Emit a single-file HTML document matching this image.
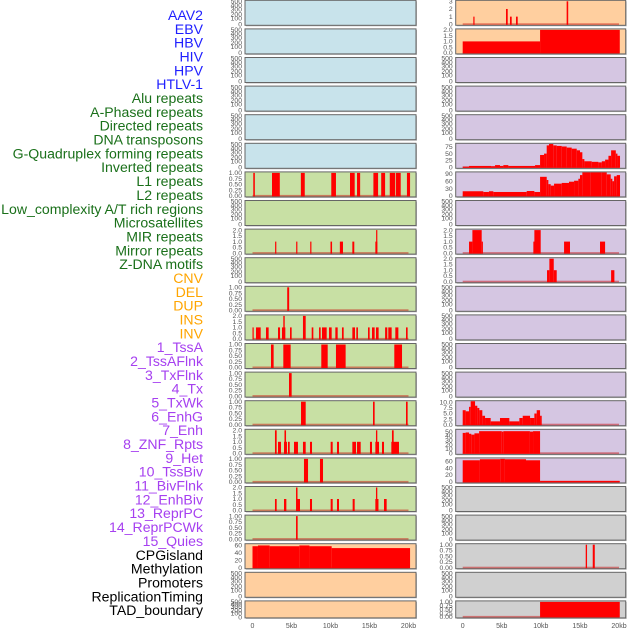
<!DOCTYPE html>
<html><head><meta charset="utf-8"><style>
html,body{margin:0;padding:0;background:#fff;width:630px;height:630px;overflow:hidden}
svg{display:block;font-family:"Liberation Sans",sans-serif}
</style></head><body>
<svg id="chart" width="630" height="630" viewBox="0 0 630 630"></svg>
<script>
const labels = ["AAV2","EBV","HBV","HIV","HPV","HTLV-1","Alu repeats","A-Phased repeats","Directed repeats","DNA transposons","G-Quadruplex forming repeats","Inverted repeats","L1 repeats","L2 repeats","Low_complexity A/T rich regions","Microsatellites","MIR repeats","Mirror repeats","Z-DNA motifs","CNV","DEL","DUP","INS","INV","1_TssA","2_TssAFlnk","3_TxFlnk","4_Tx","5_TxWk","6_EnhG","7_Enh","8_ZNF_Rpts","9_Het","10_TssBiv","11_BivFlnk","12_EnhBiv","13_ReprPC","14_ReprPCWk","15_Quies","CPGisland","Methylation","Promoters","ReplicationTiming","TAD_boundary"];
const labelGroups = [6,13,5,15,5];
const groupColors = ["#1f1fff","#1a701a","#ffa500","#a640f0","#000000"];
const xTicks = [0,5,10,15,20];
const xTickLabels = ["0","5kb","10kb","15kb","20kb"];
// segments: [startKb, endKb, value]
const L06 = [[0.1,0.3,1],[2.5,3.5,1],[6.2,6.7,1],[10.1,10.7,1],[12.5,13.1,1],[13.4,13.8,1],[15.5,16.1,1],[16.5,17.0,1],[17.6,18.3,1],[18.4,19.0,1],[19.8,20.2,1]];
const L08 = [[2.9,3.05,1],[5.6,5.75,1],[7.4,7.55,1],[10.0,10.2,1],[11.2,11.6,1],[12.8,13.05,1],[15.75,16.0,1],[15.85,16.0,2]];
const L10 = [[4.45,4.7,1]];
const L11 = [[0,0.15,1],[0.45,1.05,1],[1.73,2.07,1],[3.27,3.53,1],[3.78,4.21,1],[3.95,4.13,2],[4.81,5.02,1],[6.47,6.82,2],[7.59,7.8,1],[8.53,8.74,1],[8.91,9.51,1],[9.81,10.15,1],[10.62,10.92,1],[11.47,11.69,1],[12.8,13.14,1],[13.31,13.52,1],[14.81,15.02,1],[15.32,15.66,1],[15.83,16.17,1],[17.0,17.28,1],[17.41,17.84,1],[18.31,18.7,1],[19.68,19.89,1]];
const L12 = [[2.37,2.71,1],[3.95,4.89,1],[8.82,9.64,1],[10.7,11.94,1],[18.18,19.17,1]];
const L13 = [[4.68,5.02,1]];
const L14 = [[6.22,6.82,1],[15.45,15.66,1],[19.68,19.89,1]];
const L15 = [[2.88,3.1,2],[3.27,3.65,1],[4.04,4.42,1],[4.1,4.3,2],[4.55,4.77,1],[5.32,5.83,1],[6.47,6.82,1],[7.37,7.63,1],[10.02,10.28,1],[10.83,11.09,1],[12.8,13.27,1],[13.4,13.87,1],[15.06,15.32,1],[15.75,16.22,1],[15.83,16.0,2],[16.6,16.86,1],[17.8,18.78,1],[17.88,18.1,2]];
const L16 = [[6.6,7.12,1],[8.65,9.04,1]];
const L17 = [[2.88,3.1,1],[4.04,4.34,1],[5.58,5.77,2],[5.77,6.09,1],[7.37,7.63,1],[10.02,10.28,1],[10.83,11.09,1],[12.84,13.1,1],[15.75,16.15,1],[15.83,16.0,2],[16.86,17.2,1]];
const L18 = [[5.58,5.79,1]];
const L19 = [[0,0.7,57],[0.7,2.2,59],[2.2,6,57],[6,7.3,59],[7.3,10.15,57],[10.15,20.2,52]];
const R00 = [[1.36,1.49,1],[5.54,5.76,2],[6.05,6.27,1],[6.82,7.04,1],[13.3,13.5,3]];
const R01 = [[0,9.9,1],[9.9,20.1,2]];
const R05 = [[0,0.81,2],[0.81,3.62,5],[3.62,4.14,4],[4.14,4.77,8],[4.77,5.2,5],[5.2,5.84,8],[5.84,9.26,5],[9.26,9.9,8],[9.9,10.41,45],[10.41,10.75,50],[10.75,11.04,80],[11.04,11.59,85],[11.59,12.03,80],[12.03,12.67,78],[12.67,13.31,76],[13.31,13.95,72],[13.95,14.59,68],[14.59,15.01,62],[15.01,15.31,55],[15.31,15.57,30],[15.57,16.51,22],[16.51,17.36,20],[17.36,17.8,18],[17.8,18.22,22],[18.22,18.65,28],[18.65,18.99,42],[18.99,19.59,62],[19.59,19.8,50],[19.8,20.13,42]];
const R06 = [[0,2.64,19],[2.64,3.36,16],[3.36,3.92,19],[3.92,8.19,16],[8.19,9.17,20],[9.17,9.9,16],[9.9,10.75,78],[10.75,10.96,65],[10.96,11.26,48],[11.26,11.69,42],[11.69,12.67,50],[12.67,13.6,53],[13.6,14.25,58],[14.25,14.8,62],[14.8,15.01,70],[15.01,15.31,85],[15.31,16.38,97],[16.38,17.8,99],[17.8,18.43,96],[18.43,18.94,88],[18.94,19.15,70],[19.15,19.37,60],[19.37,19.71,80],[19.71,20.13,85]];
const R08 = [[0.81,1.24,1],[1.24,2.43,2],[2.43,2.56,1],[9.04,9.17,1],[9.17,9.98,2],[12.97,13.73,1],[17.57,18.22,1]];
const R09 = [[10.79,11.09,1],[11.09,11.65,2],[11.65,12.03,1],[18.99,19.41,1]];
const R14 = [[0,0.38,6.5],[0.38,0.81,6],[0.81,1.02,8],[1.02,1.58,10.5],[1.58,1.87,8.5],[1.87,2.13,7.5],[2.13,2.51,6.5],[2.51,2.86,4],[2.86,3.58,3],[3.58,4.77,1.5],[4.77,5.97,3],[5.97,7.25,1.5],[7.25,7.68,3],[7.68,8.62,4],[8.62,9.17,3],[9.17,9.47,5],[9.47,9.9,6.5],[9.9,10.11,4]];
const R15 = [[0,0.38,47],[0.38,0.81,48],[0.81,1.1,45],[1.1,1.5,43],[1.5,2.1,46],[2.1,5.0,51],[5.0,5.2,50],[5.2,8.6,51],[8.6,9.0,50],[9.0,9.9,51]];
const R16 = [[0,2.2,63],[2.2,4.8,66],[4.8,5.4,67],[5.4,8.1,66],[8.1,9.9,63],[9.9,20.1,3]];
const R19 = [[15.74,15.91,1],[16.64,16.9,1]];
const R21 = [[9.9,20.1,1]];
const empTicks = ["500","400","300","200","100","0"];
const t1 = ["1.00","0.75","0.50","0.25","0.00"], t2 = ["2.0","1.5","1.0","0.5","0.0"];
const BG = {b:"#c8e3eb",g:"#c8e0a4",o:"#ffcf9f",p:"#d5c6e2",s:"#d0d0d0"};
const panels = [];
function P(side,row,bg,name,data,max,tl,tv){panels.push({side,row,bg,name,data,max,tl,tv});}
for(let i=0;i<6;i++) P("L",i,"b",labels[i],null);
const leftGreen = {6:[L06,1,t1,[1,.75,.5,.25,0]],8:[L08,2,t2,[2,1.5,1,.5,0]],10:[L10,1,t1,[1,.75,.5,.25,0]],11:[L11,2,t2,[2,1.5,1,.5,0]],12:[L12,1,t1,[1,.75,.5,.25,0]],13:[L13,1,t1,[1,.75,.5,.25,0]],14:[L14,1,t1,[1,.75,.5,.25,0]],15:[L15,2,t2,[2,1.5,1,.5,0]],16:[L16,1,t1,[1,.75,.5,.25,0]],17:[L17,2,t2,[2,1.5,1,.5,0]],18:[L18,1,t1,[1,.75,.5,.25,0]]};
for(let i=6;i<19;i++){const s=leftGreen[i]; if(s) P("L",i,"g",labels[i],s[0],s[1],s[2],s[3]); else P("L",i,"g",labels[i],null);}
P("L",19,"o",labels[19],L19,61,["60","40","20","0"],[60,40,20,0]);
P("L",20,"o",labels[20],null);
P("L",21,"o",labels[21],null);
P("R",0,"o",labels[22],R00,3,["3","2","1","0"],[3,2,1,0]);
P("R",1,"o",labels[23],R01,2,t2,[2,1.5,1,.5,0]);
const rightPurple = {5:[R05,84,["75","50","25","0"],[75,50,25,0]],6:[R06,94,["90","60","30","0"],[90,60,30,0]],8:[R08,2,t2,[2,1.5,1,.5,0]],9:[R09,2,t2,[2,1.5,1,.5,0]],14:[R14,10.3,["10.0","7.5","5.0","2.5","0.0"],[10,7.5,5,2.5,0]],15:[R15,53,["50","40","30","20","10","0"],[50,40,30,20,10,0]],16:[R16,67,["60","40","20","0"],[60,40,20,0]]};
for(let i=2;i<17;i++){const s=rightPurple[i]; if(s) P("R",i,"p",labels[22+i],s[0],s[1],s[2],s[3]); else P("R",i,"p",labels[22+i],null);}
P("R",17,"s",labels[39],null);
P("R",18,"s",labels[40],null);
P("R",19,"s",labels[41],R19,1,t1,[1,.75,.5,.25,0]);
P("R",20,"s",labels[42],null);
P("R",21,"s",labels[43],R21,1,t1,[1,.75,.5,.25,0]);

const NS="http://www.w3.org/2000/svg";
const svg=document.getElementById("chart");
function mk(tag,attrs,parent){const e=document.createElementNS(NS,tag);for(const k in attrs)e.setAttribute(k,attrs[k]);(parent||svg).appendChild(e);return e;}
function slug(s){return s.toLowerCase().replace(/[^a-z0-9]+/g,"-").replace(/^-|-$/g,"");}

let li=0;
labelGroups.forEach((n,g)=>{for(let k=0;k<n;k++){const t=mk("text",{x:203,y:15+li*13.84+5,"text-anchor":"end","font-size":"14.1",fill:groupColors[g]});t.textContent=labels[li];


li++;}});

function geom(p){const x=p.side==="L"?245:455.7;const w=p.side==="L"?171:170;const top=0.3+p.row*28.6;const h=p.row===21?17:25;return {x,w,top,h};}
function xScale(side,kb){return side==="L"?252.5+kb*7.8:462.7+kb*7.815;}

panels.forEach(p=>{
  const g=geom(p);
  const grp=mk("g",{});
  
  
  mk("rect",{x:g.x+1,y:g.top+1,width:g.w,height:g.h,fill:"#b8b8b8"},grp);
  const bg=mk("rect",{x:g.x,y:g.top,width:g.w,height:g.h,fill:BG[p.bg],stroke:"#666","stroke-width":1},grp);
  
  
  const y0=g.top+g.h-1, y1=g.top+1;
  const tx=g.x-3;
  if(!p.data){
    const offs=[1,5,9,14,18,24];
    empTicks.forEach((lab,i)=>{const t=mk("text",{x:tx,y:g.top+offs[i]*g.h/25+2.2,"text-anchor":"end","font-size":"6.8",fill:"#555"},grp);t.textContent=lab;
      
      });
    return;
  }
  const yS=v=>y0-(v/p.max)*(y0-y1);
  p.tl.forEach((lab,i)=>{const t=mk("text",{x:tx,y:yS(p.tv[i])+2.2,"text-anchor":"end","font-size":"6.8",fill:"#555"},grp);t.textContent=lab;
    
    });
  const base=mk("rect",{x:xScale(p.side,0),y:y0-1,width:xScale(p.side,20)-xScale(p.side,0),height:1.6,fill:"rgba(200,0,0,0.45)"},grp);
  
  
  p.data.forEach(d=>{
    const xa=xScale(p.side,d[0]), xb=xScale(p.side,d[1]);
    const ya=Math.max(yS(d[2]),g.top+0.5);
    const r=mk("rect",{x:xa,y:ya,width:Math.max(xb-xa,1.2),height:y0-ya+0.5,fill:"#ff0000"},grp);
    
    
  });
});

["L","R"].forEach(side=>{xTicks.forEach((v,i)=>{const t=mk("text",{x:xScale(side,v),y:628,"text-anchor":"middle","font-size":"7",fill:"#555"});t.textContent=xTickLabels[i];
  
  });});
</script>
</body></html>
